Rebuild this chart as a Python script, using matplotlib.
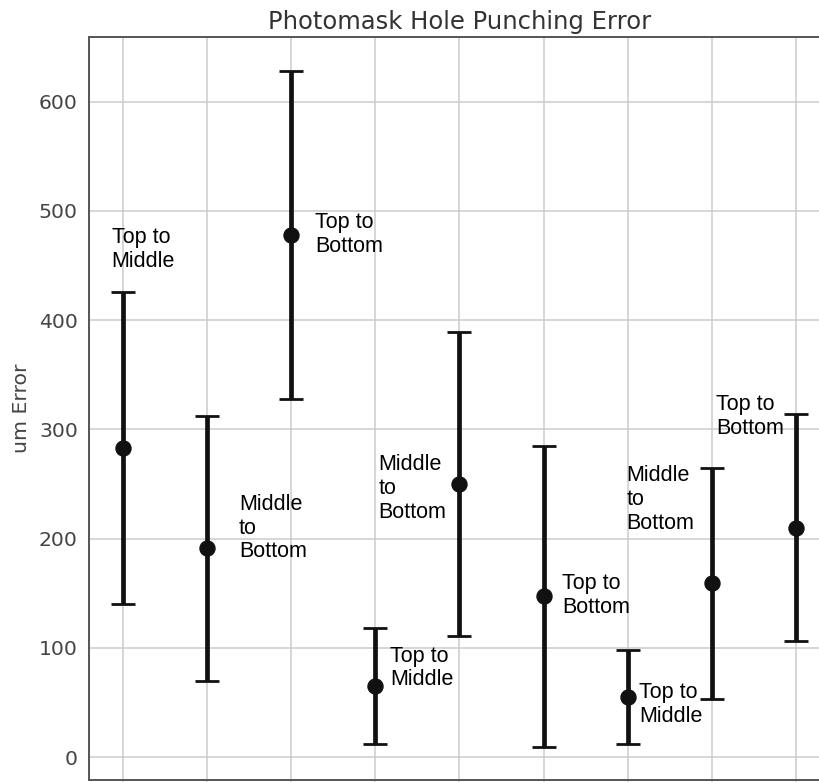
import numpy as np
import matplotlib
matplotlib.use("Agg")
import matplotlib.pyplot as plt

positions = [0, 1, 2, 3, 4, 5, 6, 7, 8]
mean_err = [283, 191, 478, 65, 250, 147, 55, 159, 210]
spread = [143, 121, 150, 53, 139, 138, 43, 106, 104]

# annotation text and where it sits (data coords, top-left corner)
labels = ["Top to\nMiddle", "Middle\nto\nBottom", "Top to\nBottom",
          "Top to\nMiddle", "Middle\nto\nBottom", "Top to\nBottom",
          "Top to\nMiddle", "Middle\nto\nBottom", "Top to\nBottom"]
label_x = [-0.13, 1.38, 2.29, 3.18, 3.04, 5.22, 6.13, 5.98, 7.05]
label_y = [485, 241, 499, 102, 277, 168, 69, 267, 332]

fig = plt.figure(figsize=(8.2, 7.82), dpi=100)
ax = fig.add_axes([0.1085, 0.0026, 0.9037, 0.950])

ax.errorbar(positions, mean_err, yerr=spread, fmt='o', color='#111111',
            ecolor='#111111', elinewidth=3.4, markersize=10.8,
            capsize=8.4, capthick=2.0, zorder=3)

for lx, ly, txt in zip(label_x, label_y, labels):
    ax.text(lx, ly, txt, ha='left', va='top', fontsize=15.5,
            family=['Liberation Sans', 'DejaVu Sans'], color='black',
            linespacing=1.18, zorder=4)

ax.set_xlim(-0.4, 8.4)
ax.set_ylim(-21, 659)
ax.set_xticks(positions)
ax.set_xticklabels([])
ax.set_yticks(np.arange(0, 601, 100))
ax.tick_params(axis='y', length=0, labelsize=14.7, labelcolor='#444444', pad=8)
ax.tick_params(axis='x', length=5, color='#cccccc', width=1.1)
ax.grid(True, color='#cccccc', linewidth=1.1)
ax.set_axisbelow(True)
for side in ax.spines.values():
    side.set_color('#555555')
    side.set_linewidth(1.4)

ax.set_ylabel('um Error', fontsize=14.7, color='#444444', labelpad=6)
ax.set_title('Photomask Hole Punching Error', fontsize=17.5, color='#333333', pad=6)

fig.savefig('out.png', dpi=100)
